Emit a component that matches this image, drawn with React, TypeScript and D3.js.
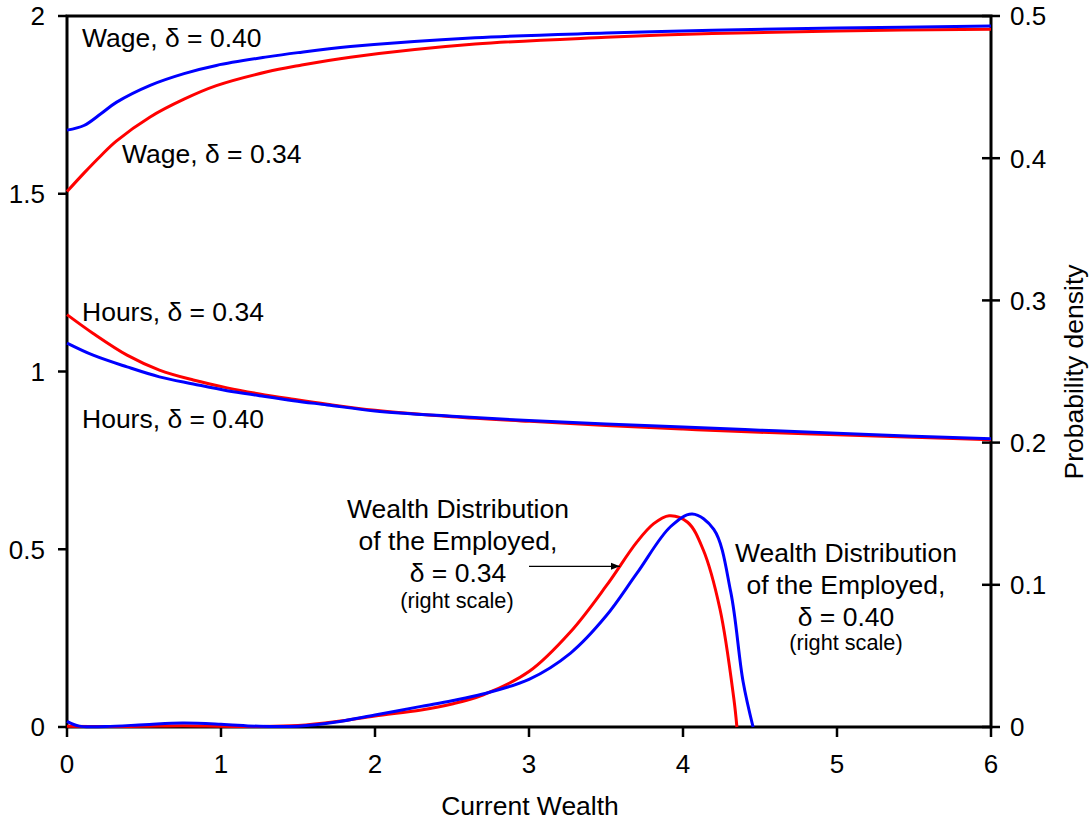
import React from "react";
import * as d3 from "d3";

// ---- data ----
const wageX = [0, 0.11, 0.22, 0.32, 0.54, 0.76, 0.97, 1.3, 1.5, 1.84, 2.65, 3.5, 4.19, 5, 6];
const wage040 = [1.679, 1.692, 1.725, 1.757, 1.805, 1.838, 1.861, 1.885, 1.897, 1.914, 1.939, 1.952, 1.96, 1.966, 1.972];
const wage034 = [1.506, 1.558, 1.607, 1.648, 1.716, 1.766, 1.804, 1.843, 1.86, 1.884, 1.921, 1.94, 1.951, 1.958, 1.963];

const hoursX = [0, 0.17, 0.39, 0.6, 0.82, 1.04, 1.25, 1.47, 1.69, 2.0, 2.5, 3, 3.5, 4, 4.5, 5, 5.5, 6];
const hours034 = [1.16, 1.107, 1.046, 1.004, 0.976, 0.954, 0.937, 0.922, 0.908, 0.891, 0.873, 0.86, 0.848, 0.838, 0.829, 0.822, 0.815, 0.808];
const hours040 = [1.08, 1.046, 1.013, 0.985, 0.965, 0.946, 0.932, 0.918, 0.906, 0.889, 0.874, 0.862, 0.852, 0.844, 0.835, 0.826, 0.818, 0.811];

const dens034X = [0, 0.25, 0.5, 0.75, 1.0, 1.25, 1.5, 1.75, 2.0, 2.3, 2.5, 2.7, 3.0, 3.27, 3.5, 3.7, 3.81, 3.91, 4.03, 4.13, 4.24, 4.33, 4.35];
const dens034 = [0.0005, 0.0003, 0.0005, 0.0008, 0.0005, 0.0003, 0.001, 0.0038, 0.0078, 0.012, 0.0162, 0.0225, 0.039, 0.067, 0.099, 0.13, 0.143, 0.1486, 0.144, 0.125, 0.083, 0.02, 0];
const dens040X = [0, 0.08, 0.25, 0.5, 0.75, 1.0, 1.25, 1.5, 1.75, 2.0, 2.3, 2.5, 2.7, 3.0, 3.27, 3.5, 3.7, 3.92, 4.06, 4.2, 4.31, 4.39, 4.455];
const dens040 = [0.004, 0.0006, 0.0004, 0.0016, 0.0028, 0.002, 0.0005, 0.0006, 0.0035, 0.0084, 0.0145, 0.0185, 0.0232, 0.0335, 0.052, 0.078, 0.108, 0.141, 0.1498, 0.139, 0.095, 0.032, 0];

const xTicks = [0, 1, 2, 3, 4, 5, 6];
const yLeftTicks = [0, 0.5, 1, 1.5, 2];
const yLeftLabels = ["0", "0.5", "1", "1.5", "2"];
const yRightTicks = [0, 0.1, 0.2, 0.3, 0.4, 0.5];
const yRightLabels = ["0", "0.1", "0.2", "0.3", "0.4", "0.5"];

const RED = "#ff0000";
const BLUE = "#0000ff";
const FONT = "'Liberation Sans', Arial, Helvetica, sans-serif";

export default function App() {
  const W = 1090, H = 822;
  const x = d3.scaleLinear().domain([0, 6]).range([67, 991]);
  const yL = d3.scaleLinear().domain([0, 2]).range([727, 16]);
  const yR = d3.scaleLinear().domain([0, 0.5]).range([727, 16]);

  const mk = (xs: number[], ys: number[]) => xs.map((v, i) => [v, ys[i]] as [number, number]);
  const curve = d3.curveCatmullRom.alpha(0.5);
  const lineL = d3.line<[number, number]>().x(d => x(d[0])).y(d => yL(d[1])).curve(curve);
  const lineR = d3.line<[number, number]>().x(d => x(d[0])).y(d => yR(d[1])).curve(curve);

  const [x0, x1] = x.range();
  const [yb, yt] = yL.range();

  const big = 26.5;
  const tick = 26;
  const small = 21.7;
  const arrowStartX = 3.0, arrowEndX = 3.59, arrowY = 0.113;

  return (
    <svg width={W} height={H} style={{ position: "absolute", left: 0, top: 0, background: "#fff" }} fontFamily={FONT}>
      <defs>
        <marker id="ah" viewBox="0 0 10 10" refX="10" refY="5" markerWidth="9" markerHeight="9" orient="auto" markerUnits="userSpaceOnUse">
          <path d="M0,1 L10,5 L0,9 z" fill="#000" />
        </marker>
      </defs>
      {/* frame */}
      <rect x={x0} y={yt} width={x1 - x0} height={yb - yt} fill="none" stroke="#000" strokeWidth={3} />
      {/* left ticks */}
      {yLeftTicks.map((t, i) => (
        <g key={"l" + i}>
          <line x1={x0 - 9} x2={x0} y1={yL(t)} y2={yL(t)} stroke="#000" strokeWidth={2.5} />
          <text x={45} y={yL(t)} dy="0.36em" textAnchor="end" fontSize={tick}>{yLeftLabels[i]}</text>
        </g>
      ))}
      {/* right ticks */}
      {yRightTicks.map((t, i) => (
        <g key={"r" + i}>
          <line x1={x1 - 9} x2={x1 + 9} y1={yR(t)} y2={yR(t)} stroke="#000" strokeWidth={2.5} />
          <text x={1010} y={yR(t)} dy="0.36em" textAnchor="start" fontSize={tick}>{yRightLabels[i]}</text>
        </g>
      ))}
      {/* bottom ticks */}
      {xTicks.map((t, i) => (
        <g key={"b" + i}>
          <line x1={x(t)} x2={x(t)} y1={yb} y2={yb + 10} stroke="#000" strokeWidth={2.5} />
          <text x={x(t)} y={773} textAnchor="middle" fontSize={tick}>{String(t)}</text>
        </g>
      ))}
      <text x={530} y={815} textAnchor="middle" fontSize={big}>Current Wealth</text>
      <text transform={`translate(1083,372) rotate(-90)`} textAnchor="middle" fontSize={big}>Probability density</text>

      {/* curves */}
      <path d={lineL(mk(wageX, wage034)) || ""} fill="none" stroke={RED} strokeWidth={3} />
      <path d={lineL(mk(wageX, wage040)) || ""} fill="none" stroke={BLUE} strokeWidth={3} />
      <path d={lineL(mk(hoursX, hours034)) || ""} fill="none" stroke={RED} strokeWidth={3} />
      <path d={lineL(mk(hoursX, hours040)) || ""} fill="none" stroke={BLUE} strokeWidth={3} />
      <path d={lineR(mk(dens034X, dens034)) || ""} fill="none" stroke={RED} strokeWidth={3} />
      <path d={lineR(mk(dens040X, dens040)) || ""} fill="none" stroke={BLUE} strokeWidth={3} />

      {/* labels */}
      <text x={82} y={47} fontSize={big}>Wage, δ = 0.40</text>
      <text x={122} y={163} fontSize={big}>Wage, δ = 0.34</text>
      <text x={82} y={321} fontSize={big}>Hours, δ = 0.34</text>
      <text x={82} y={428} fontSize={big}>Hours, δ = 0.40</text>

      <g textAnchor="middle">
        <text x={458} y={518} fontSize={big}>Wealth Distribution</text>
        <text x={458} y={550} fontSize={big}>of the Employed,</text>
        <text x={458} y={582} fontSize={big}>δ = 0.34</text>
        <text x={457} y={608} fontSize={small}>(right scale)</text>

        <text x={846} y={562} fontSize={big}>Wealth Distribution</text>
        <text x={846} y={594} fontSize={big}>of the Employed,</text>
        <text x={846} y={626} fontSize={big}>δ = 0.40</text>
        <text x={846} y={650} fontSize={small}>(right scale)</text>
      </g>
      <line x1={x(arrowStartX)} x2={x(arrowEndX)} y1={yR(arrowY)} y2={yR(arrowY)} stroke="#000" strokeWidth={1.3} markerEnd="url(#ah)" />
    </svg>
  );
}
